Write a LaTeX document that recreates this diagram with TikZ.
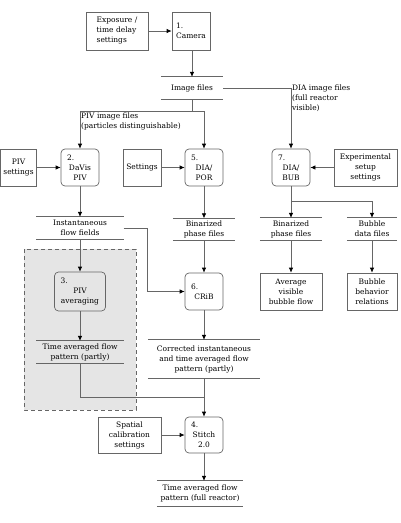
\documentclass[tikz,border=0pt]{standalone}
\usepackage{fontspec}
\setmainfont{DejaVu Serif}
\usetikzlibrary{arrows.meta}
\definecolor{linegray}{gray}{0.4}
\definecolor{shadegray}{gray}{0.9}
\newcommand{\pnum}[2][26pt]{\makebox[#1][l]{#2}}

\begin{document}
\begin{tikzpicture}[x=1pt,y=-1pt,
  font=\fontsize{7.5}{10}\selectfont,
  every node/.style={inner sep=1pt,align=center},
  box/.style={draw=linegray,line width=0.7pt,minimum width=#1,minimum height=37pt},
  box/.default=38pt,
  proc/.style={box=#1,rounded corners=4pt},
  proc/.default=38pt,
  store/.style={minimum width=#1,minimum height=22pt,
    append after command={(\tikzlastnode.north west) edge[draw=linegray,line width=0.7pt] (\tikzlastnode.north east)
      (\tikzlastnode.south west) edge[draw=linegray,line width=0.7pt] (\tikzlastnode.south east)}},
  flow/.style={draw=linegray,line width=0.7pt,-{Latex[length=5pt,width=4.5pt,black]}},
  link/.style={draw=linegray,line width=0.7pt}]
  \useasboundingbox (0,0) rectangle (401,523);
  \filldraw[fill=shadegray,draw=linegray,line width=0.7pt,dash pattern=on 4pt off 3pt] (24,249) rectangle (136,410);

  \node[box=62pt,minimum height=38pt,align=left] (expo) at (117,31) {Exposure /\\time delay\\settings};
  \node[box,minimum height=38pt,align=left] (cam) at (191,31) {1.\\Camera};
  \node[store=62pt] (imgf) at (192,88) {Image files};

  \node[proc] (davis) at (80,167.5) {\pnum{2.}\\DaVis\\PIV};
  \node[proc] (por) at (204,167.5) {\pnum{5.}\\DIA/\\POR};
  \node[proc] (bub) at (291,167.5) {\pnum{7.}\\DIA/\\BUB};
  \node[box=36pt] (pivset) at (18.5,167.5) {PIV\\settings};
  \node[box] (setn) at (142,167.5) {Settings};
  \node[box=63pt] (expset) at (365.5,167.5) {Experimental\\setup\\settings};

  \node[store=87pt] (inst) at (80,228) {Instantaneous\\flow fields};
  \node[store=62pt] (binpor) at (204,229.5) {Binarized\\phase files};
  \node[store=62pt] (binbub) at (291,229) {Binarized\\phase files};
  \node[store=50pt] (bubdat) at (372,229) {Bubble\\data files};

  \node[proc=51pt,minimum height=39pt] (avg) at (80,291.5) {\pnum[39pt]{3.}\\PIV\\averaging};
  \node[proc] (crib) at (204,291.5) {\pnum{6.}\\CRiB};
  \node[box=62pt] (avgvis) at (291,291.5) {Average\\visible\\bubble flow};
  \node[box=50pt] (bubrel) at (372,291.5) {Bubble\\behavior\\relations};

  \node[store=87pt] (tavg) at (80,352) {Time averaged flow\\pattern (partly)};
  \node[store=112pt,minimum height=38pt] (corr) at (204,359) {Corrected instantaneous\\and time averaged flow\\pattern (partly)};

  \node[proc,minimum height=36pt] (stitch) at (204,435) {\pnum{4.}\\Stitch\\2.0};
  \node[box=63pt,minimum height=36pt] (spat) at (129.5,435) {Spatial\\calibration\\settings};
  \node[store=86pt,minimum height=25pt] (final) at (200,493.5) {Time averaged flow\\pattern (full reactor)};

  \coordinate (pivsplit) at (192,111);
  \coordinate (bubsplit) at (291,201);
  \coordinate (merge) at (204,397);

  \draw[flow] (expo) -- (cam);
  \draw[flow] (cam.south -| imgf) -- (imgf);
  \draw[link] (imgf.south) -- (pivsplit);
  \draw[flow] (pivsplit) -| (davis.north);
  \draw[flow] (pivsplit) -| (por.north);
  \node[anchor=north west,align=left] (pivlbl) at (80,112) {PIV image files\\(particles distinguishable)};
  \draw[flow] (imgf.east) -| (bub.north);
  \node[anchor=north west,align=left] (dialbl) at (291,84) {DIA image files\\(full reactor\\visible)};

  \draw[flow] (pivset) -- (davis);
  \draw[flow] (setn) -- (por);
  \draw[flow] (expset) -- (bub);
  \draw[flow] (davis) -- (inst);
  \draw[flow] (por) -- (binpor);
  \draw[flow] (bub) -- (binbub);
  \draw[flow] (bubsplit) -| (bubdat.north);

  \draw[flow] (inst.east) -- ++(24,0) |- (crib.west);
  \draw[flow] (inst) -- (avg);
  \draw[flow] (binpor) -- (crib);
  \draw[flow] (binbub) -- (avgvis);
  \draw[flow] (bubdat) -- (bubrel);
  \draw[flow] (avg) -- (tavg);
  \draw[flow] (crib) -- (corr);

  \draw[link] (tavg.south) |- (merge);
  \draw[flow] (corr.south) -- (stitch.north);
  \draw[flow] (spat) -- (stitch);
  \draw[flow] (stitch.south) -- (stitch.south |- final.north);
\end{tikzpicture}
\end{document}
